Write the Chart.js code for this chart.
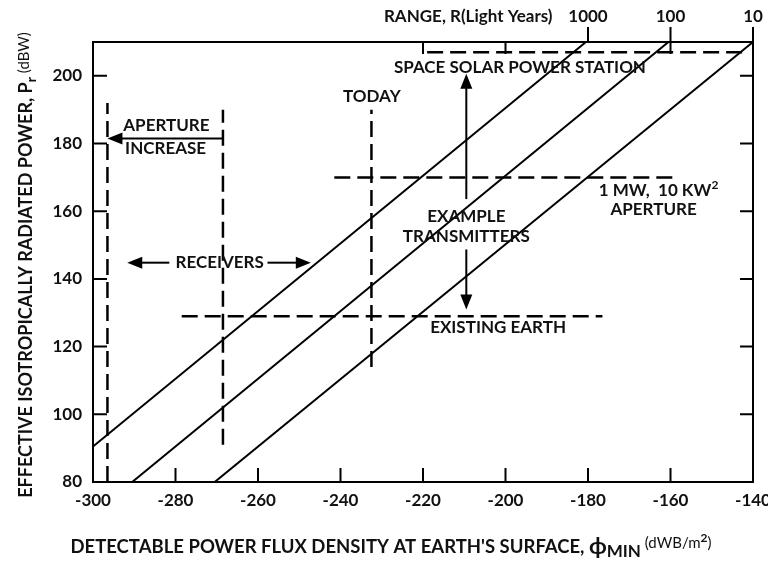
<!DOCTYPE html>
<html>
<head>
<meta charset="utf-8">
<script src="https://cdn.jsdelivr.net/npm/chart.js@4.4.0/dist/chart.umd.min.js"></script>
<style>
  html, body { margin: 0; padding: 0; background: #fff; }
</style>
</head>
<body>
<canvas id="chart" width="768" height="562"></canvas>
<script>
// flux axis (dBW/m^2) and EIRP axis (dBW)
const fluxTicks = [-300, -280, -260, -240, -220, -200, -180, -160, -140];
const eirpTicks = [80, 100, 120, 140, 160, 180, 200];

// top range axis, light years
const rangeTickFlux = [-220, -200, -180, -160, -140];
const rangeTickLabels = ['', '', '1000', '100', '10'];

// solid range lines (R = 1000, 100, 10 light years)
const rangeNames = ['1000 ly', '100 ly', '10 ly'];
const rangeLineFlux = [[-300, -180.5], [-290.5, -160.5], [-270.5, -140]];
const rangeLineEirp = [[90.5, 210], [80, 210], [80, 210]];

// dashed reference lines
const refNames = ['Space solar power station', '1 MW, 10 KW2 aperture', 'Existing Earth', 'Today', 'Receivers', 'Aperture increase'];
const refFlux = [[-219, -141], [-241.5, -158.5], [-278.5, -176.5], [-232.5, -232.5], [-268.5, -268.5], [-296.5, -296.5]];
const refEirp = [[207, 207], [170, 170], [129, 129], [114, 190], [91, 190], [80, 192]];

const FONT = 'Lato, "DejaVu Sans", sans-serif';
const font = (size, weight) => (weight || 'bold') + ' ' + size + 'px ' + FONT;

// annotation texts placed in data units
const notes = [
  { t: 'SPACE SOLAR POWER STATION', x: -196.5, y: 202.5 },
  { t: 'TODAY', x: -232.4, y: 194 },
  { t: 'APERTURE', x: -282.2, y: 185.3 },
  { t: 'INCREASE', x: -282.4, y: 178.6 },
  { t: 'RECEIVERS', x: -269.3, y: 144.8 },
  { t: 'EXAMPLE', x: -209.5, y: 158.3 },
  { t: 'TRANSMITTERS', x: -209.5, y: 152.5 },
  { t: 'APERTURE', x: -164.1, y: 160.6 },
  { t: 'EXISTING EARTH', x: -201.8, y: 125.6 }
];
const arrows = [
  [-268.5, 181.5, -296.5, 181.5],
  [-281.5, 144.8, -291.7, 144.8],
  [-257.7, 144.8, -247.2, 144.8],
  [-209.5, 163.6, -209.5, 200.6],
  [-209.5, 148.7, -209.5, 131]
];

function pts(xs, ys) {
  return xs.map((v, i) => ({ x: v, y: ys[i] }));
}

const datasets = [];
rangeNames.forEach((n, i) => {
  datasets.push({
    label: n, data: pts(rangeLineFlux[i], rangeLineEirp[i]),
    borderColor: '#000', borderWidth: 2, pointRadius: 0, fill: false
  });
});
refNames.forEach((n, i) => {
  datasets.push({
    label: n, data: pts(refFlux[i], refEirp[i]),
    borderColor: '#000', borderWidth: 2.5, borderDash: [16, 7], pointRadius: 0, fill: false
  });
});

// draws a run of text pieces (for sub/superscripts), centred on cx
function richText(ctx, parts, cx, cy) {
  let w = 0;
  parts.forEach(p => { ctx.font = font(p.size, p.weight); w += ctx.measureText(p.t).width; });
  let x = cx - w / 2;
  ctx.textAlign = 'left';
  ctx.textBaseline = 'middle';
  parts.forEach(p => {
    ctx.font = font(p.size, p.weight);
    ctx.fillText(p.t, x, cy + (p.dy || 0));
    x += ctx.measureText(p.t).width;
  });
}

const figurePlugin = {
  id: 'figure',
  afterDatasetsDraw(chart) {
    const { ctx, chartArea: a, scales } = chart;
    const px = v => scales.x.getPixelForValue(v);
    const py = v => scales.y.getPixelForValue(v);
    ctx.save();
    ctx.strokeStyle = '#000';
    ctx.fillStyle = '#111';
    ctx.lineWidth = 2;
    ctx.setLineDash([]);
    ctx.strokeRect(a.left, a.top, a.right - a.left, a.bottom - a.top);

    // inward tick marks
    ctx.beginPath();
    fluxTicks.forEach(v => { ctx.moveTo(px(v), a.bottom); ctx.lineTo(px(v), a.bottom - 14); });
    eirpTicks.forEach(v => {
      ctx.moveTo(a.left, py(v)); ctx.lineTo(a.left + 14, py(v));
      ctx.moveTo(a.right, py(v)); ctx.lineTo(a.right - 13, py(v));
    });
    rangeTickFlux.forEach((v, i) => {
      if (rangeTickLabels[i]) { ctx.moveTo(px(v), a.top); ctx.lineTo(px(v), a.top - 15); }
      if (!rangeTickLabels[i] || rangeTickLabels[i] === '100') { ctx.moveTo(px(v), a.top); ctx.lineTo(px(v), a.top + 12); }
    });
    ctx.stroke();

    // arrows
    arrows.forEach(([x1, y1, x2, y2]) => {
      const ax = px(x1), ay = py(y1), bx = px(x2), by = py(y2);
      const ang = Math.atan2(by - ay, bx - ax);
      const hl = 15, hw = 6;
      ctx.beginPath();
      ctx.moveTo(ax, ay);
      ctx.lineTo(bx - Math.cos(ang) * hl * 0.8, by - Math.sin(ang) * hl * 0.8);
      ctx.stroke();
      ctx.beginPath();
      ctx.moveTo(bx, by);
      ctx.lineTo(bx - Math.cos(ang) * hl - Math.sin(ang) * hw, by - Math.sin(ang) * hl + Math.cos(ang) * hw);
      ctx.lineTo(bx - Math.cos(ang) * hl + Math.sin(ang) * hw, by - Math.sin(ang) * hl - Math.cos(ang) * hw);
      ctx.closePath();
      ctx.fillStyle = '#000';
      ctx.fill();
    });

    // annotations
    ctx.fillStyle = '#111';
    ctx.textAlign = 'center';
    ctx.textBaseline = 'middle';
    ctx.font = font(17);
    notes.forEach(n => ctx.fillText(n.t, px(n.x), py(n.y)));
    richText(ctx, [{ t: '1 MW,  10 KW', size: 17 }, { t: '2', size: 12, dy: -6 }], px(-162.9), py(166));

    // range title
    ctx.font = font(17);
    ctx.textAlign = 'right';
    ctx.fillText('RANGE, R(Light Years)', px(-188.6), 17);

    // axis titles
    richText(ctx, [
      { t: "DETECTABLE POWER FLUX DENSITY AT EARTH'S SURFACE, ", size: 18.5 },
      { t: '\u03d5', size: 23 },
      { t: 'MIN', size: 17, dy: 5 },
      { t: ' (dWB/m', size: 15, weight: 'normal', dy: -4 },
      { t: '2', size: 12, dy: -9 },
      { t: ')', size: 15, weight: 'normal', dy: -4 }
    ], 391, 547);

    ctx.translate(26, 265);
    ctx.rotate(-Math.PI / 2);
    richText(ctx, [
      { t: 'EFFECTIVE ISOTROPICALLY RADIATED POWER, P', size: 18 },
      { t: 'r', size: 14, dy: 5 },
      { t: ' (dBW)', size: 15, weight: 'normal', dy: -2 }
    ], 0, 0);
    ctx.restore();
  }
};

const tickFont = { family: FONT, size: 17, weight: 'bold' };

new Chart(document.getElementById('chart'), {
  type: 'line',
  data: { datasets },
  plugins: [figurePlugin],
  options: {
    responsive: false,
    animation: false,
    devicePixelRatio: 1,
    layout: { padding: { left: 0, right: 15, top: 0, bottom: 0 } },
    plugins: { legend: { display: false }, tooltip: { enabled: false }, title: { display: false } },
    scales: {
      x: {
        type: 'linear', position: 'bottom', min: -300, max: -140,
        afterBuildTicks: s => { s.ticks = fluxTicks.map(v => ({ value: v })); },
        afterFit: s => { s.height = 80; s.paddingLeft = 0; s.paddingRight = 0; },
        grid: { display: false }, border: { display: false },
        ticks: { color: '#111', font: tickFont, padding: 0, maxRotation: 0, autoSkip: false }
      },
      x2: {
        type: 'linear', position: 'top', min: -300, max: -140,
        afterBuildTicks: s => { s.ticks = rangeTickFlux.map(v => ({ value: v })); },
        afterFit: s => { s.height = 42; s.paddingLeft = 0; s.paddingRight = 0; },
        grid: { display: false }, border: { display: false },
        ticks: {
          color: '#111', font: tickFont, padding: 7, maxRotation: 0, autoSkip: false,
          callback: v => rangeTickLabels[rangeTickFlux.indexOf(v)]
        }
      },
      y: {
        type: 'linear', position: 'left', min: 80, max: 210,
        afterBuildTicks: s => { s.ticks = eirpTicks.map(v => ({ value: v })); },
        afterFit: s => { s.width = 93; },
        grid: { display: false }, border: { display: false },
        ticks: { color: '#111', font: tickFont, padding: 3 }
      }
    }
  }
});
</script>
</body>
</html>
